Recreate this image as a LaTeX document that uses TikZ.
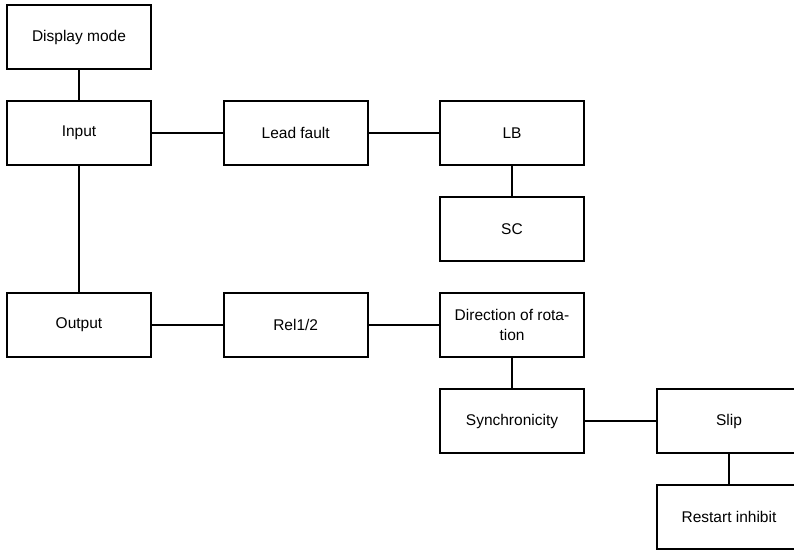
\documentclass[tikz,border=0pt]{standalone}
\usepackage{fontspec}
\setmainfont{Liberation Sans}
\begin{document}
\begin{tikzpicture}[x=1pt,y=-1pt,
  box/.style={draw,line width=2pt,minimum width=144pt,minimum height=64pt,inner sep=0pt,align=center,font=\fontsize{15.5}{20}\selectfont,anchor=north west},
  link/.style={line width=2pt}]
\useasboundingbox (0,0) rectangle (794,549);
\node[box] (disp) at (6,4) {Display mode};
\node[box] (in) at (6,100) {Input};
\node[box] (lead) at (222.7,100) {Lead fault};
\node[box] (lb) at (439,100) {LB};
\node[box] (sc) at (439,196) {SC};
\node[box] (out) at (6,292) {Output};
\node[box] (rel) at (222.7,292) {Rel1/2};
\node[box] (dir) at (439,292) {Direction of rota-\\tion};
\node[box] (sync) at (439,388) {Synchronicity};
\node[box] (slip) at (656,388) {Slip};
\node[box] (rest) at (656,484) {Restart inhibit};
\draw[link] (disp) -- (in);
\draw[link] (in) -- (out);
\draw[link] (in) -- (lead);
\draw[link] (lead) -- (lb);
\draw[link] (lb) -- (sc);
\draw[link] (out) -- (rel);
\draw[link] (rel) -- (dir);
\draw[link] (dir) -- (sync);
\draw[link] (sync) -- (slip);
\draw[link] (slip) -- (rest);
\end{tikzpicture}
\end{document}
